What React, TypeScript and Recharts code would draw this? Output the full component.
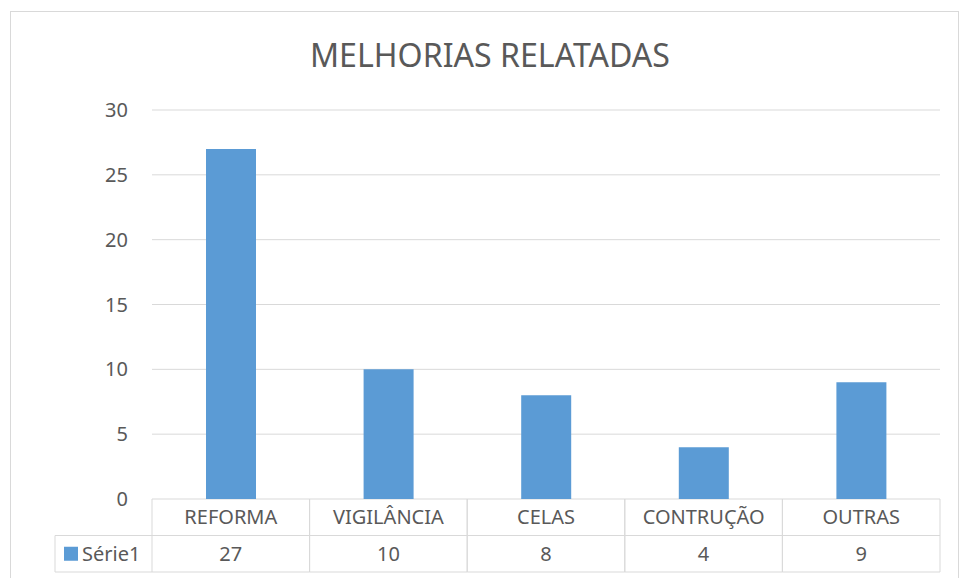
import { Bar, BarChart, CartesianGrid, XAxis, YAxis } from "recharts";

const categories = ["REFORMA", "VIGILÂNCIA", "CELAS", "CONTRUÇÃO", "OUTRAS"];
const serie1 = [27, 10, 8, 4, 9];
const yTicks = [0, 5, 10, 15, 20, 25, 30];
const seriesName = "Série1";
const title = "MELHORIAS RELATADAS";

const data = categories.map((name, i) => ({ name, value: serie1[i] }));

const W = 959;
const H = 578;
const PLOT_LEFT = 152;
const PLOT_RIGHT = 940;
const PLOT_BOTTOM = 499;
const ROW = 36.5;
const BAND = (PLOT_RIGHT - PLOT_LEFT) / categories.length;
const FONT = "'Noto Sans', sans-serif";
const TEXT = "#595959";
const LINE = "#d9d9d9";
const BLUE = "#5B9BD5";

// category row + value row of the excel data table
const TableTick = (props: any) => {
    const { x, payload, index } = props;
    const left = x - BAND / 2;
    const right = x + BAND / 2;
    const top = PLOT_BOTTOM;
    return (
        <g>
            <line x1={left} y1={top} x2={left} y2={top + ROW * 2} stroke={LINE} />
            <line x1={right} y1={top} x2={right} y2={top + ROW * 2} stroke={LINE} />
            <line x1={left} y1={top + ROW} x2={right} y2={top + ROW} stroke={LINE} />
            <line x1={left} y1={top + ROW * 2} x2={right} y2={top + ROW * 2} stroke={LINE} />
            <text x={x} y={top + ROW / 2 + 7} textAnchor="middle" fontSize={20} fill={TEXT} fontFamily={FONT}>
                {payload.value}
            </text>
            <text x={x} y={top + ROW * 1.5 + 7} textAnchor="middle" fontSize={20} fill={TEXT} fontFamily={FONT}>
                {serie1[index]}
            </text>
            {index === 0 && (
                <g>
                    <line x1={55} y1={top + ROW} x2={left} y2={top + ROW} stroke={LINE} />
                    <line x1={55} y1={top + ROW * 2} x2={left} y2={top + ROW * 2} stroke={LINE} />
                    <line x1={55} y1={top + ROW} x2={55} y2={top + ROW * 2} stroke={LINE} />
                    <rect x={64} y={top + ROW * 1.5 - 7} width={14} height={14} fill={BLUE} />
                    <text x={82} y={top + ROW * 1.5 + 7} fontSize={20} fill={TEXT} fontFamily={FONT}>
                        {seriesName}
                    </text>
                </g>
            )}
        </g>
    );
};

const App = () => {
    return (
        <div style={{ position: "absolute", left: 0, top: 0, width: W, height: H, overflow: "hidden", background: "#fff" }}>
            <div
                style={{
                    position: "absolute",
                    left: 10,
                    top: 11,
                    width: 947,
                    height: 600,
                    border: `1px solid ${LINE}`,
                }}
            />
            <svg style={{ position: "absolute", left: 0, top: 0 }} width={W} height={100}>
                <text
                    x={490}
                    y={67}
                    textAnchor="middle"
                    fontSize={33}
                    fill={TEXT}
                    fontFamily={FONT}
                    textLength={360}
                    lengthAdjust="spacingAndGlyphs"
                >
                    {title}
                </text>
            </svg>
            <div style={{ position: "absolute", left: 0, top: 0 }}>
                <BarChart
                    width={W}
                    height={H}
                    data={data}
                    margin={{ top: 110, right: W - PLOT_RIGHT, left: PLOT_LEFT - 60, bottom: 0 }}
                >
                    <CartesianGrid vertical={false} stroke={LINE} />
                    <XAxis
                        dataKey="name"
                        height={H - PLOT_BOTTOM}
                        axisLine={false}
                        tickLine={false}
                        interval={0}
                        tick={<TableTick />}
                    />
                    <YAxis
                        width={60}
                        domain={[0, 30]}
                        ticks={yTicks}
                        axisLine={false}
                        tickLine={false}
                        tickMargin={18}
                        tick={{ fontSize: 20, fill: TEXT, fontFamily: FONT }}
                    />
                    <Bar dataKey="value" fill={BLUE} barSize={50} isAnimationActive={false} />
                </BarChart>
            </div>
        </div>
    );
};

export default App;
